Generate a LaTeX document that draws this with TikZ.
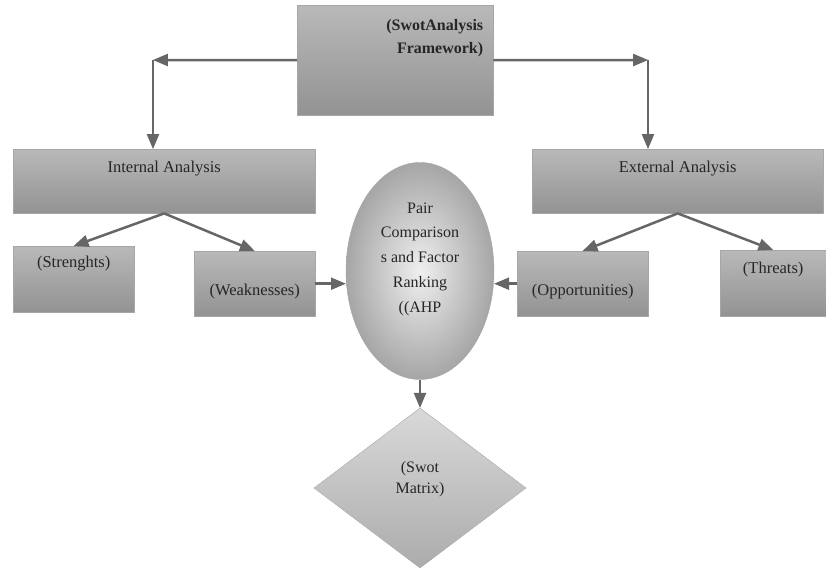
\documentclass[tikz,border=0pt]{standalone}
\usepackage{fontspec}
\setmainfont{Liberation Serif}
\usetikzlibrary{arrows,calc,shapes,shadows}

\tikzset{
	box/.style={draw=gray!70, anchor=north west, inner sep=0pt,
		top color=gray!55, middle color=gray!12, bottom color=gray!85,
		text=black!85},
	arr/.style={draw=black!60, line width=2.5pt, -triangle 45}
}

\begin{document}
\begin{tikzpicture}[x=1pt,y=-1pt,font=\fontsize{16.5}{19}\selectfont]
	\useasboundingbox (0,0) rectangle (826,567);

	% top level
	\node[box, minimum width=196pt, text width=176pt, inner xsep=10pt,
		align=right, text height=25pt, text depth=85pt,
		font=\fontsize{16}{23}\selectfont\bfseries] (frame) at (297,5)
		{(SwotAnalysis\\Framework)};
	\coordinate (lcorner) at (153,60);
	\coordinate (rcorner) at (648,60);

	% analysis boxes
	\node[box, minimum width=302pt, text height=23pt, text depth=41pt] (internal) at (13,149) {Internal Analysis};
	\node[box, minimum width=291pt, text height=23pt, text depth=41pt] (external) at (532,149) {External Analysis};

	% factors
	\node[box, minimum width=121pt, text height=21pt, text depth=45pt] (strength) at (13,246) {(Strenghts)};
	\node[box, minimum width=121pt, text height=44pt, text depth=21pt] (weak) at (194,251) {(Weaknesses)};
	\node[box, minimum width=131pt, text height=44pt, text depth=21pt] (opp) at (517,251) {(Opportunities)};
	\node[box, minimum width=106pt, text height=23pt, text depth=43pt] (threat) at (720,250) {(Threats)};

	% ahp and matrix
	\node[ellipse, draw=gray!70, inner sep=0pt, minimum width=148pt, minimum height=217pt,
		inner color=gray!12, outer color=gray!70, align=center,
		text height=86pt, text depth=4pt, text=black!85,
		font=\fontsize{16}{24.7}\selectfont] (ahp) at (420,271)
		{Pair\\Comparison\\s and Factor\\Ranking\\((AHP};
	\node[diamond, draw=gray!70, inner sep=0pt, minimum width=212pt, minimum height=160pt,
		top color=gray!30, bottom color=gray!65, align=center,
		text height=14pt, text depth=4pt, text=black!85,
		font=\fontsize{16}{21}\selectfont] (matrix) at (420,488)
		{(Swot\\Matrix)};

	% connectors
	\draw[arr] (frame.west) -- (lcorner);
	\draw[arr] (lcorner) -- (lcorner |- internal.north);
	\draw[arr] (frame.east) -- (rcorner);
	\draw[arr] (rcorner) -- (rcorner |- external.north);
	\draw[arr] (internal.south) -- (strength.north);
	\draw[arr] (internal.south) -- (weak.north);
	\draw[arr] (external.south) -- (opp.north);
	\draw[arr] (external.south) -- (threat.north);
	\draw[arr] (weak.east) -- (weak.east -| ahp.west);
	\draw[arr] (opp.west) -- (opp.west -| ahp.east);
	\draw[arr] (ahp.south) -- (matrix.north);

\end{tikzpicture}
\end{document}
